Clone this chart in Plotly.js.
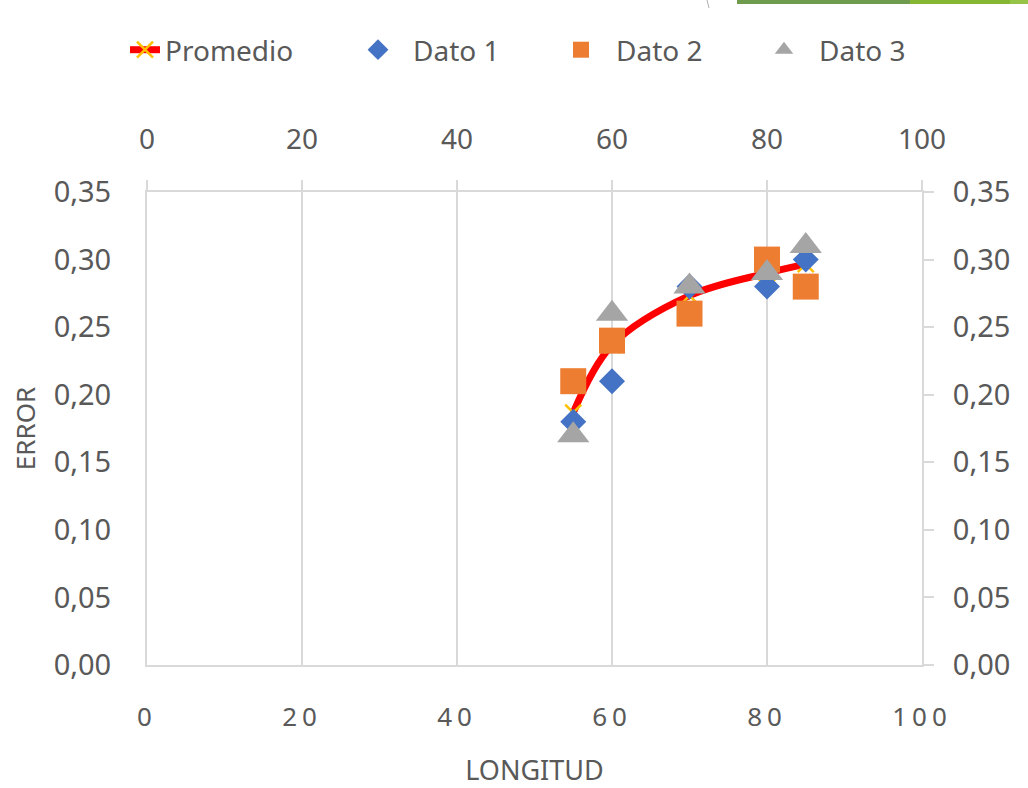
<!DOCTYPE html>
<html>
<head>
<meta charset="utf-8">
<script src="https://cdn.plot.ly/plotly-3.0.1.min.js"></script>
<style>
  html, body { margin: 0; padding: 0; background: #fff; }
  #chart { width: 1028px; height: 788px; }
  /* spaced-out digits on the bottom axis */
  .xtick text { letter-spacing: 5px; }
</style>
</head>
<body>
<div id="chart"></div>
<script>
// Longitud values (x) shared by every series
const longitud = [55, 60, 70, 80, 85];

// Measured error for each run
const dato1 = [0.18, 0.21, 0.28, 0.28, 0.30];
const dato2 = [0.21, 0.24, 0.26, 0.30, 0.28];
const dato3 = [0.17, 0.26, 0.28, 0.29, 0.31];

// Mean of the three runs
const promedio = longitud.map((_, i) => (dato1[i] + dato2[i] + dato3[i]) / 3);

const xTicks = [0, 20, 40, 60, 80, 100];
const yTicks = [0, 0.05, 0.10, 0.15, 0.20, 0.25, 0.30, 0.35];

const grey = '#595959';
const lineGrey = '#d9d9d9';
const font = 'Noto Sans, Open Sans, sans-serif';

const traces = [
  {
    name: 'Promedio', x: longitud, y: promedio, mode: 'lines+markers', legend: 'legend',
    line: { color: '#ff0000', width: 7, shape: 'spline', smoothing: 1 },
    marker: { symbol: 'x-thin', size: 16, color: '#ffc000', line: { color: '#ffc000', width: 2.5 } }
  },
  {
    name: 'Dato 1', x: longitud, y: dato1, mode: 'markers', legend: 'legend2',
    marker: { symbol: 'diamond', size: 20, color: '#4472c4' }
  },
  {
    name: 'Dato 2', x: longitud, y: dato2, mode: 'markers', legend: 'legend2',
    marker: { symbol: 'square', size: 26, color: '#ed7d31' }
  },
  {
    // drawn on the secondary (top / right) axes, which share the same ranges
    name: 'Dato 3', x: longitud, y: dato3, mode: 'markers', legend: 'legend2',
    xaxis: 'x2', yaxis: 'y2',
    marker: { symbol: 'triangle-up', size: 28, color: '#a5a5a5' }
  }
];

const px = v => (v - 147) / 775;   // horizontal pixel -> paper
const py = v => (665 - v) / 473;   // vertical pixel -> paper

const layout = {
  width: 1028, height: 788,
  margin: { l: 147, r: 106, t: 192, b: 123 },
  paper_bgcolor: '#ffffff', plot_bgcolor: '#ffffff',
  separators: ',.',
  font: { family: font, color: grey, size: 28 },
  showlegend: true,
  legend: {
    orientation: 'h', x: px(125), y: py(50), xanchor: 'left', yanchor: 'middle',
    font: { family: font, size: 28, color: grey }
  },
  legend2: {
    orientation: 'h', x: px(343), y: py(50), xanchor: 'left', yanchor: 'middle',
    font: { family: font, size: 28, color: grey },
    entrywidth: 128, itemwidth: 60
  },
  xaxis: {
    range: [0, 100], tickvals: xTicks, ticktext: xTicks.map(String),
    showline: true, linecolor: lineGrey, linewidth: 2,
    showgrid: true, gridcolor: lineGrey, gridwidth: 2,
    ticks: '', zeroline: false, ticklabelstandoff: 28,
    tickfont: { family: font, size: 26, color: grey },
    title: { text: 'LONGITUD', font: { family: font, size: 27, color: grey }, standoff: 33 }
  },
  xaxis2: {
    anchor: 'y2', side: 'top', overlaying: 'x',
    range: [0, 100], tickvals: xTicks,
    showline: true, linecolor: lineGrey, linewidth: 2,
    showgrid: false, zeroline: false,
    ticks: 'outside', ticklen: 10, tickwidth: 2, tickcolor: lineGrey, ticklabelstandoff: 20,
    tickfont: { family: font, size: 28, color: grey }
  },
  yaxis: {
    range: [0, 0.35], tickvals: yTicks, tickformat: '.2f',
    showline: true, linecolor: lineGrey, linewidth: 2,
    showgrid: false, zeroline: false, ticks: '', ticklabelstandoff: 28,
    tickfont: { family: font, size: 29, color: grey },
    title: { text: 'ERROR', font: { family: font, size: 26, color: grey }, standoff: 11 }
  },
  yaxis2: {
    anchor: 'x2', side: 'right', overlaying: 'y',
    range: [0, 0.35], tickvals: yTicks, tickformat: '.2f',
    showline: true, linecolor: lineGrey, linewidth: 2,
    showgrid: false, zeroline: false,
    ticks: 'outside', ticklen: 10, tickwidth: 2, tickcolor: lineGrey, ticklabelstandoff: 13,
    tickfont: { family: font, size: 29, color: grey }
  },
  shapes: [
    { type: 'rect', xref: 'paper', yref: 'paper', x0: px(737), x1: px(910), y0: py(0), y1: py(4),
      fillcolor: '#6f9b4e', line: { width: 0 } },
    { type: 'rect', xref: 'paper', yref: 'paper', x0: px(910), x1: px(1010), y0: py(0), y1: py(4),
      fillcolor: '#85b733', line: { width: 0 } },
    { type: 'rect', xref: 'paper', yref: 'paper', x0: px(1010), x1: px(1028), y0: py(0), y1: py(4),
      fillcolor: '#95c447', line: { width: 0 } },
    { type: 'line', xref: 'paper', yref: 'paper', x0: px(707), x1: px(709), y0: py(0), y1: py(8),
      line: { color: '#b0b0b0', width: 1 } }
  ]
};

Plotly.newPlot('chart', traces, layout, { displayModeBar: false, staticPlot: true });
</script>
</body>
</html>
